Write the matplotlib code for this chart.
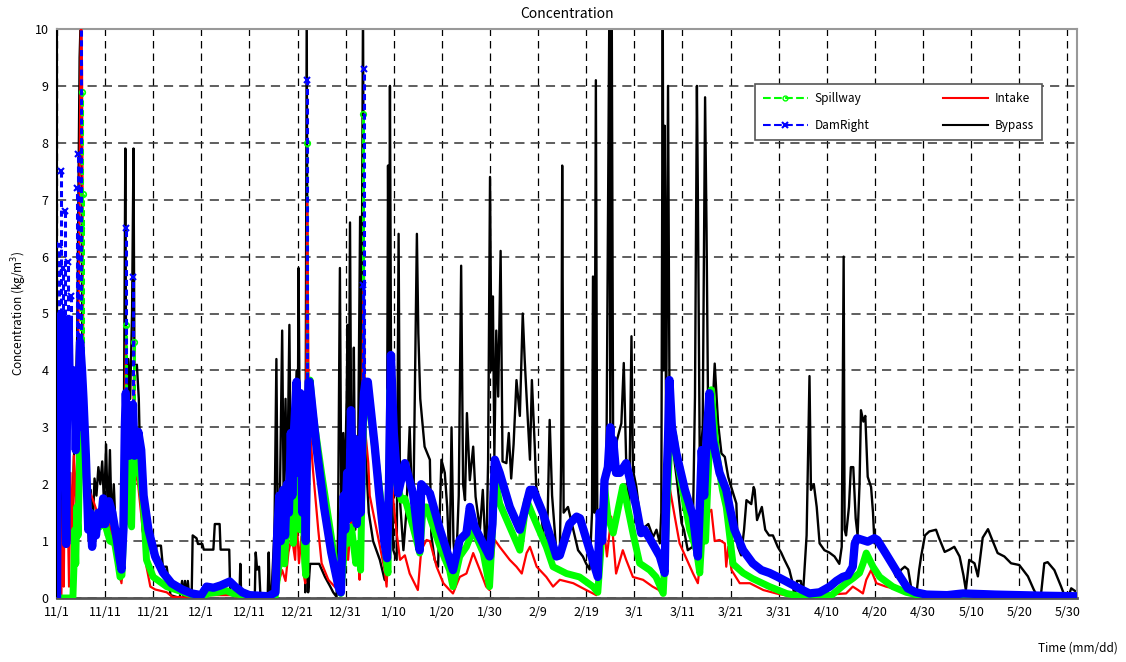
import matplotlib
matplotlib.use('Agg')
import numpy as np
import matplotlib.pyplot as plt
from matplotlib.lines import Line2D

plt.rcParams['font.family'] = ['Noto Sans CJK JP', 'DejaVu Sans']

# day offsets from 11/1 and concentration (kg/m3) for each outlet
bypass_day = [0.0, 0.05, 0.8, 1.1, 1.6, 2.1, 2.7, 3.2, 3.7, 4.2, 4.7, 5.0, 5.3, 5.7, 6.1, 6.6, 7.0, 7.4,
              7.8, 8.2, 8.6, 9.0, 9.4, 9.8, 10.2, 10.6, 11.0, 11.4, 11.8, 12.3, 12.8, 13.3, 13.7, 14.0,
              14.2, 14.4, 14.8, 15.2, 15.6, 15.9, 16.1, 16.6, 17.0, 17.4, 17.8, 18.2, 18.4, 19.4, 19.6,
              20.5, 20.7, 21.6, 22.0, 22.8, 23.2, 23.6, 25.5, 26.0, 26.3, 26.6, 26.9, 27.2, 27.5, 28.0,
              28.2, 29.0, 29.3, 30.2, 30.5, 32.5, 32.8, 33.8, 34.0, 35.8, 36.0, 37.0, 37.9, 38.1, 38.3,
              41.1, 41.3, 41.6, 42.0, 42.3, 43.8, 44.0, 44.2, 44.6, 45.2, 45.6, 45.9, 46.3, 46.8, 47.1,
              47.5, 47.8, 48.3, 48.6, 49.0, 49.4, 49.8, 50.0, 50.2, 50.5, 50.9, 51.3, 51.6, 51.9, 52.2,
              52.6, 53.2, 54.5, 55.7, 56.8, 57.4, 58.1, 58.4, 58.8, 59.1, 59.5, 59.8, 60.2, 60.4, 60.6,
              60.9, 61.2, 61.5, 61.7, 62.0, 62.2, 62.6, 63.0, 63.2, 63.6, 63.9, 64.3, 64.8, 65.7, 67.1,
              68.1, 68.5, 68.8, 69.0, 69.2, 69.5, 69.9, 70.6, 71.0, 71.3, 72.0, 72.6, 73.3, 74.0, 74.8,
              75.1, 75.5, 76.4, 77.5, 77.8, 78.5, 79.2, 79.9, 80.6, 81.1, 81.6, 82.0, 82.4, 82.9, 83.5,
              84.0, 84.4, 84.8, 85.2, 85.8, 86.5, 87.0, 87.9, 88.5, 89.2, 89.6, 90.0, 90.3, 90.6, 90.9,
              91.3, 91.7, 92.2, 92.6, 93.4, 93.9, 94.4, 94.9, 95.5, 96.2, 96.8, 97.2, 97.6, 98.3, 98.7,
              99.3, 99.6, 100.3, 101.0, 101.5, 102.0, 102.4, 102.9, 103.8, 104.5, 104.8, 105.0, 105.3,
              106.2, 107.3, 108.3, 109.3, 110.0, 110.7, 111.2, 111.4, 111.7, 112.0, 112.3, 113.1, 113.5,
              114.2, 114.8, 115.0, 115.3, 115.6, 116.4, 117.3, 117.8, 118.3, 118.9, 119.4, 119.7, 120.4,
              121.5, 122.9, 123.9, 124.6, 125.3, 125.6, 125.9, 126.1, 126.3, 126.6, 127.0, 127.3, 128.4,
              129.0, 129.8, 130.3, 131.1, 132.1, 132.6, 133.0, 133.2, 133.6, 134.2, 134.7, 135.0, 135.3,
              136.0, 136.7, 137.4, 138.1, 138.8, 139.5, 140.1, 141.2, 141.5, 142.2, 142.8, 143.3, 144.3,
              144.8, 145.0, 145.5, 146.5, 147.2, 148.0, 148.8, 149.8, 150.5, 151.2, 152.2, 152.9, 153.3,
              153.8, 154.6, 155.0, 155.5, 155.8, 156.4, 156.7, 157.3, 157.9, 158.5, 159.5, 160.5, 161.6,
              162.6, 163.1, 163.5, 163.7, 164.0, 164.6, 165.0, 165.5, 166.0, 166.4, 166.8, 167.1, 167.6,
              168.0, 168.5, 169.2, 169.6, 169.9, 170.6, 171.5, 172.5, 173.5, 174.4, 175.5, 176.2, 176.9,
              177.8, 178.6, 179.2, 179.6, 180.4, 181.3, 182.7, 183.3, 184.5, 185.5, 186.5, 187.6, 188.4,
              188.9, 189.6, 190.7, 191.4, 192.4, 193.5, 194.2, 195.5, 196.9, 198.3, 200.0, 201.8, 203.0,
              203.8, 204.5, 205.2, 205.9, 207.3, 208.7, 209.5, 210.3, 210.8, 212.0]
bypass_val = [0.0, 2.1, 2.1, 1.0, 1.9, 1.2, 2.0, 1.5, 3.0, 4.6, 9.5, 10.4, 3.0, 1.8, 2.3, 1.0, 1.9, 1.2,
              2.1, 1.8, 2.3, 2.0, 2.4, 1.6, 2.7, 1.3, 2.6, 1.2, 2.0, 1.0, 0.6, 0.3, 0.5, 4.5,
              7.9, 3.0, 4.2, 3.5, 5.0, 7.9, 4.0, 4.1, 3.5, 2.0, 1.2, 1.0, 1.05, 1.05, 0.8,
              0.8, 0.92, 0.92, 0.55, 0.55, 0.3, 0.05, 0.0, 0.3, 0.0, 0.3, 0.0, 0.3, 0.0, 0.1,
              1.1, 1.05, 0.95, 0.95, 0.85, 0.85, 1.3, 1.3, 0.85, 0.85, 0.1, 0.05, 0.0, 0.6, 0.0,
              0.0, 0.8, 0.5, 0.55, 0.0, 0.05, 0.8, 0.1, 0.1, 1.2, 4.2, 1.0, 1.6, 4.7, 1.8,
              3.5, 1.6, 4.8, 2.0, 1.6, 3.0, 4.0, 1.9, 5.8, 2.5, 1.5, 3.5, 0.1, 10.4, 0.1,
              0.6, 0.6, 0.6, 0.37, 0.2, 0.1, 0.02, 1.1, 5.8, 1.5, 2.9, 1.8, 3.5, 4.8, 2.0,
              6.6, 2.0, 2.3, 4.4, 1.2, 1.7, 2.7, 6.7, 2.5, 10.4, 3.0, 2.3, 1.5, 1.0, 0.67,
              0.32, 0.3, 7.6, 4.0, 9.0, 2.5, 0.84, 0.67, 6.4, 1.7, 0.84, 1.5, 3.0, 1.14, 6.4,
              4.65, 3.5, 2.66, 2.43, 1.1, 0.67, 0.55, 2.43, 2.2, 1.6, 0.55, 3.0, 1.0, 0.44, 1.8,
              5.84, 2.0, 1.72, 3.25, 2.07, 2.66, 1.78, 1.2, 1.9, 0.61, 2.4, 7.4, 4.0, 5.3, 2.5,
              4.7, 3.54, 6.1, 2.4, 2.37, 2.9, 2.1, 2.7, 3.83, 3.2, 5.0, 4.2, 3.54, 2.43, 3.83,
              2.66, 1.96, 1.72, 1.2, 0.9, 1.5, 3.13, 1.8, 0.79, 0.7, 2.5, 7.6, 1.5,
              1.6, 1.2, 0.84, 0.73, 0.6, 0.5, 1.5, 5.65, 1.5, 9.1, 1.2, 1.2, 1.78,
              2.48, 10.4, 3.0, 10.4, 2.4, 2.78, 3.07, 4.13, 2.4, 1.5, 4.6, 2.25, 1.96,
              1.2, 1.3, 1.07, 1.2, 0.96, 1.5, 10.4, 4.0, 8.3, 2.95, 9.0, 3.54, 2.37,
              1.96, 1.32, 1.2, 0.84, 0.9, 3.54, 9.0, 7.1, 2.3, 3.0, 8.8, 6.5, 3.54,
              2.9, 4.12, 3.07, 2.54, 2.48, 2.13, 1.96, 1.66, 0.9, 0.75, 1.2, 1.72, 1.65,
              1.95, 1.9, 1.37, 1.6, 1.2, 1.1, 1.1, 0.9, 0.8, 0.67, 0.5, 0.26, 0.0,
              0.3, 0.3, 0.0, 0.7, 1.1, 3.9, 1.9, 2.0, 1.6, 0.96, 0.84, 0.8, 0.73,
              0.6, 0.9, 6.0, 1.2, 1.1, 1.6, 2.3, 2.3, 1.4, 1.1, 2.0, 3.3, 3.1,
              3.2, 2.13, 1.95, 1.5, 0.96, 1.0, 0.85, 0.75, 0.55, 0.37, 0.5, 0.55, 0.5,
              0.05, 0.05, 0.5, 0.73, 1.1, 1.17, 1.2, 1.06, 0.81, 0.85, 0.9, 0.73, 0.4,
              0.14, 0.67, 0.61, 0.38, 1.06, 1.21, 1.06, 0.79, 0.73, 0.61, 0.58, 0.38, 0.15,
              0.02, 0.05, 0.61, 0.63, 0.49, 0.2, 0.02, 0.05, 0.17, 0.1]

# dam-right: dense hourly band plus short-lived peaks
damright_day = [0.0, 0.1, 0.3, 0.6, 0.9, 1.2, 1.5, 1.7, 1.9, 2.1, 2.4, 2.7, 3.0, 3.3, 3.6, 3.9, 4.2, 4.5,
                4.8, 5.2, 5.5, 6.0, 6.5, 6.9, 7.3, 7.7, 8.1, 8.6, 9.1, 9.6, 10.0, 10.4,
                10.8, 11.5, 12.3, 13.0, 13.4, 13.8, 14.1, 14.3, 14.6, 15.0, 15.4, 15.8, 16.1, 16.5, 16.9,
                17.5, 18.0, 19.0, 20.4, 22.0, 23.8, 26.0, 28.0, 30.0, 31.1, 32.5, 34.0, 35.9, 37.0, 38.5,
                40.0, 44.0, 45.4, 45.8, 46.2, 46.5, 47.0, 47.4, 47.8, 48.2, 48.6, 48.9, 49.3, 49.8, 50.2,
                50.6, 51.0, 51.4, 51.7, 52.0, 52.3, 52.5, 54.0, 55.5, 57.0, 58.5, 59.0, 59.3, 59.6, 59.9,
                60.3, 60.7, 61.1, 61.5, 61.9, 62.3, 62.7, 63.1, 63.5, 63.8, 64.1, 64.6, 66.0, 67.0, 68.0,
                68.6, 69.0, 69.4, 70.0, 70.9, 72.3, 74.0, 75.4, 75.7, 76.8, 77.5, 79.6, 81.6, 82.3, 83.7,
                85.1, 85.8, 86.8, 89.9, 90.5, 91.0, 92.0, 94.1, 96.2, 98.3, 99.0, 101.0, 103.8, 104.5,
                106.5, 108.0, 108.7, 110.5, 112.4, 112.8, 113.3, 113.8, 114.5, 115.0, 115.4, 115.6, 116.2,
                117.0, 118.3, 119.3, 120.4, 121.4, 122.1, 123.5, 125.3, 126.3, 126.6, 127.0, 127.3, 127.8,
                128.7, 130.5, 132.2, 133.2, 133.6, 134.0, 134.5, 135.0, 135.6, 136.3, 137.7, 139.1, 139.8,
                140.8, 142.6, 144.6, 146.4, 148.1, 149.8, 151.6, 154.7, 156.4, 158.5, 160.6, 162.0, 163.3,
                164.4, 165.4, 165.8, 166.3, 168.5, 169.9, 170.5, 172.2, 174.8, 176.8, 178.5, 180.7, 185.0,
                188.3, 195.0, 200.0, 205.0, 212.0]
damright_val = [0.0, 1.8, 2.9, 4.2, 5.0, 4.0, 3.6, 4.8, 0.95, 3.8, 4.9, 3.5, 4.0, 3.2, 4.0, 2.6, 3.8, 3.0,
                4.5, 4.0, 3.5, 2.5, 1.2, 1.5, 0.9, 1.4, 1.1, 1.5, 1.3, 1.75, 1.3, 1.5,
                1.7, 1.5, 1.1, 0.7, 0.5, 1.2, 3.0, 3.6, 2.8, 2.5, 3.2, 3.4, 2.5, 2.6, 2.92,
                2.6, 1.8, 1.2, 0.73, 0.45, 0.26, 0.15, 0.08, 0.05, 0.2, 0.18, 0.22, 0.29, 0.2, 0.1,
                0.05, 0.03, 0.1, 1.2, 1.8, 1.0, 1.9, 1.1, 2.0, 1.5, 2.9, 1.8, 3.0, 3.8, 2.2,
                3.6, 1.5, 3.0, 1.0, 3.0, 3.8, 3.8, 2.6, 1.6, 0.8, 0.2, 0.1, 1.0, 1.8, 1.2,
                2.2, 1.4, 3.3, 1.8, 2.8, 1.3, 2.0, 1.5, 3.0, 3.6, 3.8, 3.8, 2.7, 1.8, 1.0,
                0.7, 2.0, 4.27, 2.9, 1.84, 2.37, 1.84, 0.84, 2.0, 1.9, 1.84, 1.2, 0.67, 0.49, 1.02,
                1.14, 1.6, 1.25, 0.73, 1.3, 2.43, 2.2, 1.6, 1.2, 1.9, 1.9, 1.49, 0.73, 0.75,
                1.3, 1.43, 1.4, 0.9, 0.37, 1.5, 1.0, 2.07, 2.3, 3.0, 2.3, 2.78, 2.2,
                2.2, 2.37, 2.0, 1.6, 1.14, 1.2, 1.0, 0.73, 0.44, 1.8, 2.8, 3.83, 3.0,
                2.55, 1.9, 1.43, 0.73, 1.6, 2.6, 1.8, 2.8, 3.6, 2.78, 2.2, 1.9, 1.6,
                1.2, 0.84, 0.61, 0.49, 0.44, 0.37, 0.29, 0.15, 0.08, 0.1, 0.2, 0.3, 0.37,
                0.4, 0.55, 0.95, 1.05, 0.99, 1.05, 1.02, 0.79, 0.43, 0.17, 0.1, 0.06, 0.05,
                0.08, 0.06, 0.05, 0.04, 0.03]
damright_peak_day = [0.5, 0.9, 1.3, 1.7, 2.3, 2.9, 4.1, 4.3, 4.9, 14.3, 15.8, 52.0, 63.5, 63.8]
damright_peak_val = [6.2, 7.5, 5.8, 6.8, 5.9, 5.3, 7.2, 7.8, 10.4, 6.5, 5.65, 9.1, 5.5, 9.3]

spillway_day = [0.0, 3.3, 3.5, 3.7, 3.9, 4.1, 4.4, 4.7, 4.9, 5.1, 5.3, 5.5, 5.8, 6.5, 7.0, 8.0, 8.9, 9.6,
                10.3, 11.0, 12.0, 12.7, 13.1, 13.5, 14.0, 14.4, 14.7, 15.1, 15.5, 15.8, 16.1, 16.4, 16.9,
                17.9, 18.6, 20.0, 22.8, 27.0, 30.0, 31.4, 33.5, 35.2, 36.5, 41.0, 45.3, 46.0, 46.7, 47.3,
                48.0, 48.8, 49.1, 49.8, 50.1, 50.5, 51.2, 51.5, 51.7, 52.0, 52.3, 52.6, 53.2, 55.0, 57.0,
                58.4, 59.0, 59.5, 59.8, 60.5, 61.2, 62.1, 62.8, 63.1, 63.4, 63.7, 64.0, 64.7, 66.0, 67.4,
                68.5, 68.8, 69.2, 69.6, 70.6, 71.6, 72.3, 74.0, 75.4, 76.1, 76.8, 79.6, 81.6, 82.3, 83.7,
                85.1, 86.5, 88.6, 89.9, 90.4, 91.0, 92.0, 94.1, 96.2, 97.6, 99.0, 101.7, 103.1, 105.9,
                108.6, 111.4, 112.4, 113.0, 113.8, 114.5, 115.6, 117.6, 118.3, 119.7, 121.1, 123.2, 124.5,
                126.0, 126.6, 127.3, 127.7, 128.2, 129.4, 131.5, 132.9, 133.6, 134.3, 134.8, 135.5, 136.0,
                137.0, 138.3, 139.1, 140.5, 142.6, 144.6, 148.1, 151.6, 155.0, 161.0, 164.0, 165.5, 166.8,
                167.5, 168.2, 169.6, 171.0, 173.7, 176.5, 180.0, 212.0]
spillway_val = [0.0, 0.0, 0.5, 1.2, 0.6, 1.6, 1.1, 2.5, 3.5, 4.0, 3.8, 3.0, 2.6, 1.49, 1.5, 1.3, 1.25, 1.55,
                1.2, 1.0, 0.96, 0.6, 0.37, 0.4, 1.5, 2.8, 2.5, 1.4, 1.25, 2.5, 2.8, 2.2, 2.36,
                1.72, 0.67, 0.37, 0.2, 0.08, 0.02, 0.08, 0.1, 0.13, 0.08, 0.02, 0.0, 0.49, 0.9, 0.6,
                1.78, 1.4, 0.96, 1.96, 2.37, 1.2, 1.43, 0.61, 0.4, 2.5, 3.5, 3.83, 3.25, 2.19, 1.08,
                0.26, 0.08, 0.61, 1.08, 0.96, 1.25, 0.61, 0.96, 0.49, 2.0, 3.0, 3.5, 3.54, 2.66, 1.66,
                0.6, 0.44, 3.66, 3.1, 2.0, 1.72, 1.75, 1.25, 0.79, 1.6, 1.6, 0.9, 0.49, 0.2, 0.73,
                0.9, 1.2, 0.79, 0.2, 1.0, 2.13, 1.66, 1.25, 0.84, 1.72, 1.43, 0.9, 0.55, 0.43,
                0.37, 0.2, 0.1, 0.8, 1.96, 1.43, 1.14, 1.96, 1.72, 1.14, 0.61, 0.49, 0.37,
                0.08, 1.2, 2.6, 3.0, 2.85, 2.19, 1.2, 0.84, 0.44, 1.5, 1.0, 2.5, 3.66,
                2.6, 1.9, 1.6, 0.6, 0.44, 0.34, 0.2, 0.08, 0.02, 0.05, 0.26, 0.35, 0.44,
                0.6, 0.79, 0.55, 0.37, 0.2, 0.1, 0.03, 0.01]
spillway_peak_day = [4.9, 5.1, 5.3, 14.4, 16.1, 52.0, 63.7]
spillway_peak_val = [6.5, 8.9, 7.1, 4.8, 4.5, 8.0, 8.5]

intake_day = [0.0, 0.9, 1.2, 1.4, 1.7, 2.0, 2.2, 2.5, 2.8, 3.1, 3.5, 3.9, 4.3, 4.7, 5.0, 5.2, 5.5, 6.2,
              7.5, 8.9, 9.6, 11.0, 12.4, 13.4, 13.9, 14.3, 14.7, 15.2, 15.7, 16.0, 16.4, 16.9, 17.9,
              18.6, 19.4, 20.4, 22.8, 24.0, 30.0, 31.4, 36.5, 38.0, 45.5, 46.0, 46.8, 47.5, 48.1, 48.8,
              49.5, 49.8, 50.3, 50.8, 51.3, 51.6, 52.0, 52.3, 52.6, 53.2, 54.3, 55.0, 56.4, 57.7, 58.4,
              59.3, 59.8, 60.5, 61.2, 61.7, 62.6, 62.9, 63.3, 63.7, 64.0, 64.7, 65.0, 66.7, 68.1, 68.5,
              69.0, 69.4, 69.9, 70.6, 71.3, 72.3, 73.3, 74.3, 75.0, 75.7, 76.8, 77.5, 78.9, 80.3, 81.6,
              82.3, 83.7, 85.1, 86.5, 87.9, 89.2, 89.9, 91.0, 92.0, 94.1, 95.5, 96.6, 97.6, 98.3, 99.7,
              101.7, 103.1, 104.5, 107.3, 110.0, 112.1, 113.8, 114.3, 115.2, 116.2, 117.6, 118.3, 119.7,
              121.8, 123.8, 125.1, 125.8, 126.3, 126.6, 127.3, 128.4, 129.4, 132.2, 133.2, 134.3, 135.3,
              136.0, 136.7, 137.7, 138.8, 139.1, 139.5, 140.2, 141.9, 144.0, 146.8, 149.5, 153.0, 164.0,
              165.4, 166.5, 167.5, 168.2, 169.2, 170.3, 172.3, 175.1, 177.8, 182.0, 212.0]
intake_val = [0.0, 0.0, 1.72, 0.2, 3.0, 1.0, 1.72, 0.2, 2.2, 1.0, 2.5, 1.5, 3.0, 7.5, 10.4, 9.3, 3.5, 2.0,
              1.72, 1.37, 1.55, 1.25, 0.73, 0.26, 1.0, 4.5, 2.0, 1.5, 2.5, 4.0, 2.2, 1.96, 1.14,
              0.55, 0.2, 0.15, 0.1, 0.02, 0.0, 0.05, 0.05, 0.0, 0.0, 0.26, 0.49, 0.3, 0.8, 1.08,
              0.67, 1.43, 0.61, 1.08, 0.4, 0.26, 7.0, 3.5, 2.95, 2.25, 1.2, 0.61, 0.32, 0.2, 0.14,
              0.49, 1.2, 0.67, 1.43, 0.61, 0.84, 0.32, 2.0, 5.5, 3.0, 2.37, 1.8, 1.08, 0.49, 0.2,
              1.2, 2.3, 1.72, 1.14, 0.67, 0.75, 0.43, 0.26, 0.14, 0.84, 1.02, 1.0, 0.55, 0.26, 0.14,
              0.08, 0.37, 0.43, 0.79, 0.49, 0.2, 0.14, 1.02, 0.9, 0.67, 0.55, 0.43, 0.79, 0.9, 0.55,
              0.37, 0.2, 0.32, 0.26, 0.14, 0.05, 1.14, 0.73, 1.43, 0.43, 0.84, 0.67, 0.37,
              0.32, 0.2, 0.14, 0.05, 1.2, 0.6, 1.96, 1.43, 0.96, 0.43, 0.26, 1.14, 1.49,
              1.55, 1.0, 1.02, 0.96, 0.55, 0.9, 0.49, 0.26, 0.26, 0.14, 0.08, 0.02, 0.08,
              0.2, 0.14, 0.08, 0.32, 0.49, 0.26, 0.2, 0.14, 0.05, 0.02, 0.0]

tick_days = [0, 10, 20, 30, 40, 50, 60, 70, 80, 90, 100, 110, 120, 130, 140, 150, 160, 170, 180, 190, 200, 210]
tick_labels = ['11/1', '11/11', '11/21', '12/1', '12/11', '12/21', '12/31', '1/10', '1/20', '1/30', '2/9',
               '2/19', '3/1', '3/11', '3/21', '3/31', '4/10', '4/20', '4/30', '5/10', '5/20', '5/30']

GREEN = '#00ff00'
BLUE = '#0000ff'

fig = plt.figure(figsize=(11.26, 6.62), dpi=100)
ax = fig.add_axes([57 / 1126, 64 / 662, 1020 / 1126, 569 / 662])

# black bypass underneath, then intake, spillway band and dam-right band on top
ax.plot(bypass_day, bypass_val, color='black', lw=1.7, zorder=2)
ax.plot(intake_day, intake_val, color='#ff0000', lw=1.6, zorder=3)

ax.vlines(spillway_peak_day, np.interp(spillway_peak_day, spillway_day, spillway_val), spillway_peak_val,
          color=GREEN, lw=2.2, linestyles=(0, (2, 1.2)), zorder=4)
ax.plot(spillway_peak_day, spillway_peak_val, ls='none', marker='o', mfc='none', mec=GREEN, ms=4, mew=1.2, zorder=4)
ax.plot(spillway_day, spillway_val, color=GREEN, lw=5, solid_joinstyle='round', zorder=4)

ax.vlines(damright_peak_day, np.interp(damright_peak_day, damright_day, damright_val), damright_peak_val,
          color=BLUE, lw=2.2, linestyles=(0, (2, 1.2)), zorder=5)
ax.plot(damright_peak_day, damright_peak_val, ls='none', marker='x', color=BLUE, ms=4.5, mew=1.5, zorder=5)
ax.plot(damright_day, damright_val, color=BLUE, lw=6, solid_joinstyle='round', zorder=5)

ax.set_xlim(0, 212)
ax.set_ylim(0, 10)
ax.set_xticks(tick_days)
ax.set_xticklabels(tick_labels)
ax.set_yticks(range(0, 11))
ax.tick_params(length=0, labelsize=9, pad=6)

ax.grid(axis='x', color='black', lw=0.9, linestyle=(0, (6, 4)))
ax.grid(axis='y', color='#333333', lw=1.1, linestyle=(0, (6, 4)))
ax.set_axisbelow(True)

ax.spines['left'].set_color('black')
ax.spines['left'].set_linewidth(1.5)
ax.spines['bottom'].set_color('#555555')
ax.spines['bottom'].set_linewidth(2)
ax.spines['top'].set_color('#999999')
ax.spines['top'].set_linewidth(1.5)
ax.spines['right'].set_color('#999999')
ax.spines['right'].set_linewidth(1.5)

ax.set_title('Concentration', fontsize=10, pad=8)
ax.set_ylabel('Concentration (kg/m$^3$)', fontsize=8.5, labelpad=4)
fig.text(1118 / 1126, 1 - 648 / 662, 'Time (mm/dd)', ha='right', va='center', fontsize=8.5)

handles = [
    Line2D([0, 1, 2], [0, 0, 0], color=GREEN, ls='--', lw=1.5, marker='o', mfc='none', ms=3.5,
           markevery=[1], label='Spillway'),
    Line2D([0, 1, 2], [0, 0, 0], color=BLUE, ls='--', lw=1.5, marker='x', mew=1.5, ms=4,
           markevery=[1], label='DamRight'),
    Line2D([], [], color='#ff0000', lw=1.5, label='Intake'),
    Line2D([], [], color='black', lw=1.5, label='Bypass'),
]
leg = ax.legend(handles=handles, ncol=2, loc='center', mode='expand',
                bbox_to_anchor=(0.684, 0.805, 0.282, 0.098),
                fontsize=8.5, handlelength=3.8, handletextpad=0.6, columnspacing=2.0,
                fancybox=False, framealpha=1, edgecolor='#555555',
                borderpad=0.7, labelspacing=1.2, borderaxespad=0)
leg.get_frame().set_linewidth(1.2)

fig.savefig('out.png', dpi=100)
